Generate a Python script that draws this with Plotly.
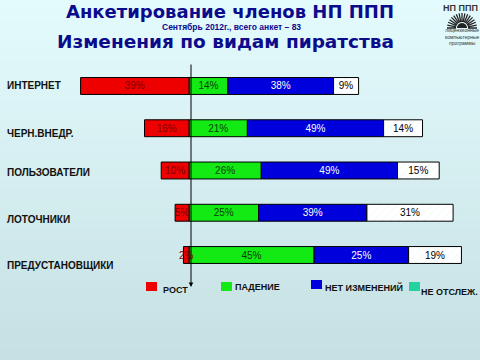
import math
import plotly.graph_objects as go

# ---------------- data ----------------
categories = ["ИНТЕРНЕТ", "ЧЕРН.ВНЕДР.", "ПОЛЬЗОВАТЕЛИ", "ЛОТОЧНИКИ", "ПРЕДУСТАНОВЩИКИ"]
series_names = ["РОСТ", "ПАДЕНИЕ", "НЕТ ИЗМЕНЕНИЙ", "НЕ ОТСЛЕЖ."]
rost = [39, 16, 10, 5, 2]
padenie = [14, 21, 26, 25, 45]
net_izm = [38, 49, 49, 39, 34]          # bar lengths as drawn
net_izm_labels = ["38%", "49%", "49%", "39%", "25%"]  # labels as printed
ne_otsl = [9, 14, 15, 31, 19]

title1 = "Анкетирование членов НП ППП"
subtitle = "Сентябрь 2012г., всего анкет – 83"
title2 = "Изменения по видам пиратства"

# ---------------- style ----------------
W, H = 480, 360
C_RED, C_GREEN, C_BLUE, C_WHITE, C_TEAL = "#ee0000", "#13ea13", "#0000dc", "#ffffff", "#22d3a0"
NAVY = "#0b0b8c"
BAR_FONT = "Liberation Sans, Arial, sans-serif"

fig = go.Figure()

def add_bar(vals, color, texts, textcolor, name, pattern=None):
    marker = dict(color=color, line=dict(color="#000000", width=1))
    if pattern:
        marker["pattern"] = pattern
    fig.add_trace(go.Bar(
        y=categories, x=vals, orientation="h", name=name,
        marker=marker, width=0.4,
        text=texts, textposition="inside", insidetextanchor="middle", textangle=0,
        textfont=dict(family=BAR_FONT, size=10, color=textcolor),
        constraintext="none", showlegend=False, hoverinfo="skip",
    ))

add_bar(padenie, C_GREEN, [f"{v}%" for v in padenie], "#0a3a0a", series_names[1])
add_bar(net_izm, C_BLUE, net_izm_labels, "#ffffff", series_names[2])
add_bar(ne_otsl, C_WHITE, [f"{v}%" for v in ne_otsl], "#000000", series_names[3],
        pattern=dict(shape="/", fgcolor="#dcecf2", bgcolor="#ffffff", size=6, solidity=0.15))
# red (negative side) added last so its labels sit on top of the neighbouring bar
add_bar([-v for v in rost], C_RED, [f"{v}%" for v in rost], "#7a0000", series_names[0])

def px(x):
    return x / W

def py(y):
    return 1 - y / H

# background gradient
shapes = []
n = 36
top = (0xe4, 0xfb, 0xfd)
bot = (0xc6, 0xe0, 0xe3)
for i in range(n):
    t = i / (n - 1)
    c = tuple(round(top[k] + (bot[k] - top[k]) * t) for k in range(3))
    shapes.append(dict(type="rect", xref="paper", yref="paper",
                       x0=0, x1=1, y0=1 - (i + 1) / n, y1=1 - i / n + 0.001,
                       fillcolor="rgb(%d,%d,%d)" % c, line=dict(width=0), layer="below"))

annotations = []

def txt(text, x, y, size, color, family=BAR_FONT, xanchor="center"):
    annotations.append(dict(text=text, x=px(x), y=py(y), xref="paper", yref="paper",
                            xanchor=xanchor, yanchor="middle", showarrow=False, borderpad=0,
                            font=dict(family=family, size=size, color=color)))

# titles
txt("<b>" + title1 + "</b>", 230, 12, 18, NAVY, family="DejaVu Sans")
txt("<b>" + subtitle + "</b>", 231, 27, 8.5, NAVY)
txt("<b>" + title2 + "</b>", 225, 41.5, 18.5, NAVY, family="DejaVu Sans")

# category labels
label_shift = [0, -5, -2, -7, -10]
for cat, sh in zip(categories, label_shift):
    annotations.append(dict(text="<b>" + cat + "</b>", x=px(5), xref="paper", y=cat, yref="y",
                            xanchor="left", yanchor="middle", yshift=sh, showarrow=False,
                            font=dict(family=BAR_FONT, size=10, color="#111111")))

# zero axis with arrow
annotations.append(dict(text="", x=0, xref="x", y=py(287), yref="paper", xshift=2,
                        ax=0, ay=-224, showarrow=True, arrowhead=2, arrowsize=0.9,
                        arrowwidth=1, arrowcolor="#000000", standoff=0))

# legend
leg_colors = [C_RED, C_GREEN, C_BLUE, C_TEAL]
leg_sq = [(146, 282), (221, 282), (311, 280), (409, 282)]
leg_tx = [(162, 290), (234, 287), (324, 287), (420, 292)]
for name, col, (sx, sy), (tx, ty) in zip(series_names, leg_colors, leg_sq, leg_tx):
    shapes.append(dict(type="rect", xref="paper", yref="paper",
                       x0=px(sx), x1=px(sx + 11), y0=py(sy + 9), y1=py(sy),
                       fillcolor=col, line=dict(width=0)))
    txt("<b>" + name + "</b>", tx, ty, 9, "#111111", xanchor="left")

# logo (decorative)
txt("<b>НП ППП</b>", 460, 8, 9, "#333333")
cx, cy = 462, 28
path = ""
for k in range(17):
    a = math.pi * k / 16
    x0, y0 = cx + 6 * math.cos(a), cy - 6 * math.sin(a)
    x1, y1 = cx + 15 * math.cos(a), cy - 15 * math.sin(a)
    path += f"M{px(x0)},{py(y0)} L{px(x1)},{py(y1)} "
shapes.append(dict(type="path", xref="paper", yref="paper", path=path,
                   line=dict(color="#222222", width=1.3)))
semi = [f"M{px(cx - 5)},{py(cy)}"] + [
    f"L{px(cx + 5 * math.cos(math.pi * (1 - k / 10)))},{py(cy - 5 * math.sin(math.pi * (1 - k / 10)))}"
    for k in range(11)]
shapes.append(dict(type="path", xref="paper", yref="paper", path=" ".join(semi) + " Z",
                   fillcolor="#222222", line=dict(width=0)))
txt("лицензионные<br>компьютерные<br>программы", 462, 36.5, 5, "#333333")

pxpu = 2.78
zero_px = 189
fig.update_layout(
    width=W, height=H, margin=dict(l=0, r=0, t=0, b=0),
    barmode="relative", bargap=0.6,
    paper_bgcolor="#d6eef0", plot_bgcolor="rgba(0,0,0,0)",
    xaxis=dict(range=[-zero_px / pxpu, (W - zero_px) / pxpu], visible=False, fixedrange=True),
    yaxis=dict(type="category", categoryorder="array", categoryarray=categories,
               range=[6.485, -2.035], visible=False, fixedrange=True),
    uniformtext=dict(minsize=10, mode="show"),
    shapes=shapes, annotations=annotations, showlegend=False,
)

fig.write_html("out.html", config={"displayModeBar": False, "staticPlot": True},
               post_script="document.body.style.margin='0';document.body.style.overflow='hidden';")
